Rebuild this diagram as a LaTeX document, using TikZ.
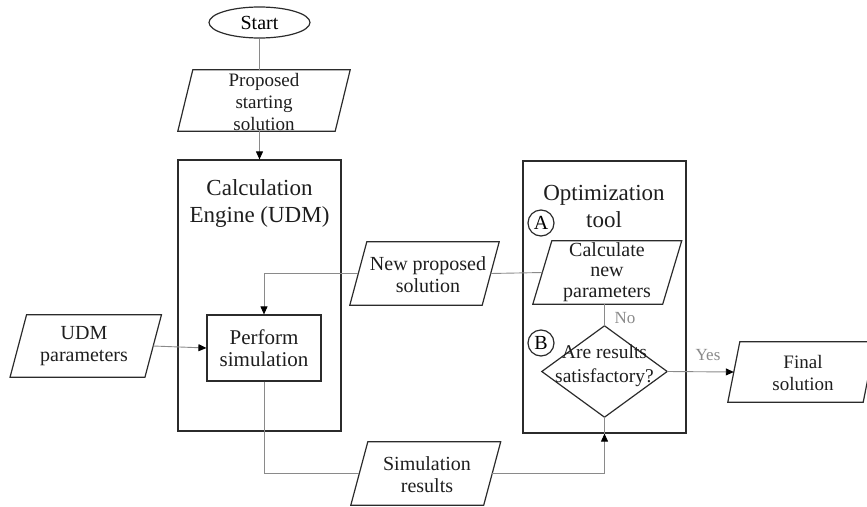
\documentclass[tikz,border=0pt]{standalone}
\usepackage{fontspec}
\setmainfont{Liberation Serif}
\usetikzlibrary{arrows.meta,calc,shapes.geometric}
\definecolor{boxc}{HTML}{2B2B2B}
\definecolor{linec}{HTML}{8A8A8A}
\definecolor{txtc}{HTML}{1E1E1E}
\begin{document}
\begin{tikzpicture}[x=1pt,y=-1pt,
  frame/.style={draw=boxc,line width=1.2pt,inner sep=0pt},
  ghost/.style={inner sep=0pt},
  conn/.style={draw=linec,line width=0.9pt},
  arr/.style={conn,-{Triangle[length=8pt,width=7pt,color=black]}},
  tms/.style={font=\fontsize{19}{22}\selectfont,text=txtc,align=center,inner sep=0pt},
  geos/.style={font=\fontsize{20}{22}\selectfont,text=txtc,align=center,inner sep=0pt},
  geot/.style={font=\fontsize{23}{27}\selectfont,text=txtc,align=center,inner sep=0pt},
  grey/.style={font=\fontsize{17}{18}\selectfont,text=linec,inner sep=0pt},
  circ/.style={draw=boxc,line width=1.2pt,circle,minimum size=26pt,inner sep=0pt,font=\fontsize{20}{22}\selectfont}]
\useasboundingbox (0,0) rectangle (867,506);

% big containers
\node[frame,minimum width=163pt,minimum height=271pt] (eng) at (259.5,295.5) {};
\node[frame,minimum width=163pt,minimum height=272pt] (opt) at (604.5,297) {};
\node[geot] (engt) at (259.5,203) {Calculation\\Engine (UDM)};
\node[geot] (optt) at (604,206) {Optimization\\tool};

% start
\node[draw=boxc,line width=1.2pt,ellipse,minimum width=101pt,minimum height=31pt,inner sep=0pt,font=\fontsize{20}{22}\selectfont] (start) at (259.5,22.5) {Start};

% parallelogram bodies (invisible rectangles on the mid-line)
\node[ghost,minimum width=157pt,minimum height=61pt] (prop) at (264,100.5) {};
\node[ghost,minimum width=134.5pt,minimum height=62pt] (udm) at (85.75,346) {};
\node[ghost,minimum width=132pt,minimum height=63pt] (newp) at (424.5,273.5) {};
\node[ghost,minimum width=129.5pt,minimum height=63pt] (calc) at (607.25,272.5) {};
\node[ghost,minimum width=132.5pt,minimum height=63pt] (simr) at (425.75,473.5) {};
\node[ghost,minimum width=135pt,minimum height=60pt] (final) at (801.5,372) {};
\foreach \n/\s in {prop/7.5,udm/8.25,newp/8.5,calc/9.5,simr/8.5,final/6}{
  \draw[boxc,line width=1.2pt] ([xshift=\s pt]\n.north west) -- ([xshift=\s pt]\n.north east)
     -- ([xshift=-\s pt]\n.south east) -- ([xshift=-\s pt]\n.south west) -- cycle;
}
% texts
\node[tms] at (264,102) {Proposed\\starting\\solution};
\node[geos] at (84,346) {UDM\\parameters};
\node[geos] at (428,275) {New proposed\\solution};
\node[geos,font=\fontsize{20}{20.5}\selectfont] at (607,272) {Calculate\\new\\parameters};
\node[geos] at (427,475) {Simulation\\results};
\node[tms] at (803,373) {Final\\solution};

% perform simulation
\node[frame,minimum width=114pt,minimum height=66pt,geos,font=\fontsize{21}{22}\selectfont] (perf) at (264,348) {Perform\\simulation};

% decision
\node[ghost,minimum width=125pt,minimum height=91pt] (dia) at (604.5,371.5) {};
\draw[boxc,line width=1.2pt] (dia.north) -- (dia.east) -- (dia.south) -- (dia.west) -- cycle;
\node[tms,font=\fontsize{19.5}{24}\selectfont] at (604.5,366) {Are results\\satisfactory?};

% circles
\node[circ] (ca) at (541,223) {A};
\node[circ] (cb) at (541,343) {B};

% connectors
\draw[conn] (start.south) -- (start.south |- prop.north);
\draw[arr] (eng.north |- prop.south) -- (eng.north);
\draw[arr] (udm.east) -- (perf.west);
\draw[arr] (newp.west) -| (perf.north);
\draw[conn] (newp.east) -- (calc.west);
\draw[conn] (dia.north) -- (dia.north |- calc.south);
\draw[conn] (perf.south) |- (simr.west);
\coordinate (optb) at (dia.south |- opt.south);
\draw[arr] (simr.east) -| (optb);
\draw[conn] (optb) -- (dia.south);
\draw[arr] (dia.east) -- (final.west);
\node[grey] (no) at (625,318) {No};
\node[grey] (yes) at (708,355) {Yes};
\end{tikzpicture}
\end{document}
